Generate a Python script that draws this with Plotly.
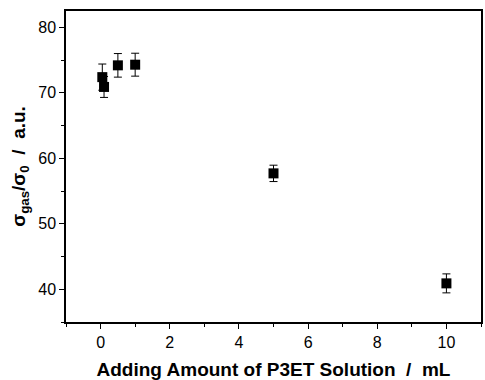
import plotly.graph_objects as go

# Sensor response versus volume of P3ET solution added
volume_ml = [0.05, 0.1, 0.5, 1.0, 5.0, 10.0]
response = [72.4, 70.9, 74.2, 74.3, 57.7, 40.9]
response_err = [2.0, 1.6, 1.8, 1.75, 1.25, 1.45]

x_ticks = [0, 2, 4, 6, 8, 10]
y_ticks = [40, 50, 60, 70, 80]

FONT = "Liberation Sans, Arial, sans-serif"

fig = go.Figure()
fig.add_trace(go.Scatter(
    x=volume_ml,
    y=response,
    mode="markers",
    marker=dict(symbol="square", size=10, color="black"),
    error_y=dict(type="data", array=response_err, visible=True,
                 color="black", thickness=1, width=4),
    showlegend=False,
))

axis_common = dict(
    showgrid=False, zeroline=False, showline=True, linecolor="black",
    linewidth=1.5, mirror=True, ticks="outside", ticklen=5, tickwidth=1.2,
    tickcolor="black",
    tickfont=dict(family=FONT, size=16, color="black"),
)

fig.update_xaxes(
    range=[-1, 11], tickvals=x_ticks, ticktext=[str(v) for v in x_ticks],
    title=dict(text="<b>Adding Amount of P3ET Solution  /  mL</b>",
               font=dict(family=FONT, size=19, color="black"),
               standoff=14),
    minor=dict(ticks="outside", ticklen=3, tickwidth=1, tickcolor="black",
               dtick=1, tick0=0),
    **axis_common,
)
fig.update_yaxes(
    range=[35, 82.5], tickvals=y_ticks, ticktext=[str(v) for v in y_ticks],
    title=dict(text="<b>σ<sub>gas</sub>/σ<sub>0</sub>  /  a.u.</b>",
               font=dict(family=FONT, size=19, color="black"),
               standoff=8),
    minor=dict(ticks="outside", ticklen=3, tickwidth=1, tickcolor="black",
               dtick=5, tick0=0),
    **axis_common,
)

fig.update_layout(
    width=485, height=380,
    margin=dict(l=66, r=2, t=11, b=57),
    plot_bgcolor="white", paper_bgcolor="white",
)

fig.write_html("out.html")
